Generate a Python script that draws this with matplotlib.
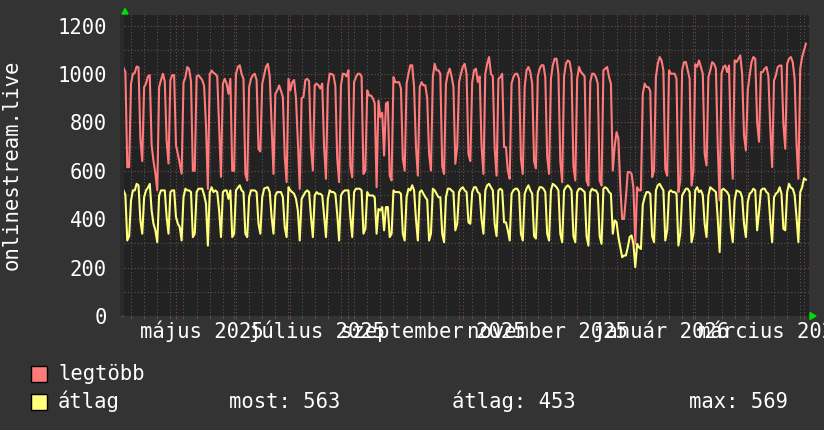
import matplotlib
matplotlib.use("Agg")
import matplotlib.pyplot as plt
import matplotlib.dates as mdates
from matplotlib.patches import Rectangle, Polygon
import pandas as pd

# ---------------------------
# Adatok (napi értékek, hetente: csüt..szerda)
# ---------------------------
start = "2025-04-03"

legtobb_heti = [
    [1026, 1008, 615, 615, 960, 1000, 1005],
    [1031, 1028, 732, 640, 946, 960, 990],
    [995, 705, 640, 590, 519, 946, 975],
    [1001, 970, 725, 630, 975, 995, 995],
    [705, 670, 630, 588, 965, 985, 1029],
    [1020, 970, 600, 600, 990, 995, 985],
    [975, 950, 787, 525, 1000, 1014, 1005],
    [1000, 990, 780, 575, 960, 980, 960],
    [918, 980, 600, 600, 1000, 1029, 1036],
    [1000, 980, 587, 560, 946, 980, 995],
    [1001, 975, 690, 680, 960, 995, 1030],
    [1042, 990, 787, 587, 918, 932, 953],
    [930, 905, 660, 553, 980, 932, 966],
    [975, 900, 720, 525, 900, 905, 975],
    [980, 970, 698, 601, 953, 960, 953],
    [940, 960, 698, 567, 946, 1001, 1000],
    [995, 950, 650, 553, 953, 1001, 1000],
    [990, 1015, 620, 573, 966, 987, 1001],
    [1001, 990, 587, 600, 932, 911, 911],
    [900, 880, 532, 890, 822, 840, 663],
    [878, 884, 580, 560, 987, 966, 966],
    [966, 940, 650, 600, 960, 1001, 1036],
    [1036, 946, 700, 580, 946, 966, 953],
    [953, 900, 670, 601, 987, 1042, 1015],
    [1015, 1001, 620, 587, 960, 1001, 1022],
    [990, 946, 629, 700, 966, 1001, 1030],
    [1042, 1000, 670, 640, 966, 1015, 1022],
    [967, 990, 700, 587, 1001, 1042, 1070],
    [1000, 990, 690, 580, 980, 987, 1001],
    [698, 698, 600, 567, 960, 987, 1001],
    [1001, 980, 650, 587, 946, 1015, 1029],
    [1008, 960, 640, 610, 990, 1022, 1036],
    [1036, 987, 660, 587, 980, 1036, 1063],
    [1063, 1001, 640, 553, 990, 1042, 1056],
    [1050, 1001, 620, 560, 980, 1029, 1008],
    [1000, 990, 560, 539, 967, 1001, 1001],
    [987, 960, 560, 539, 1015, 1022, 1029],
    [987, 960, 601, 700, 760, 733, 533],
    [401, 401, 491, 595, 595, 588, 530],
    [298, 532, 519, 519, 918, 960, 946],
    [946, 930, 574, 600, 987, 1042, 1070],
    [1056, 1015, 608, 580, 1015, 1001, 1001],
    [1001, 980, 512, 560, 1015, 1049, 1049],
    [1015, 980, 539, 600, 1040, 1030, 1056],
    [1029, 1000, 670, 622, 987, 1015, 1049],
    [1042, 1022, 700, 478, 1001, 1029, 1035],
    [1008, 1035, 712, 567, 1056, 1049, 1063],
    [1077, 1000, 746, 684, 932, 994, 1049],
    [1070, 1063, 801, 720, 1008, 1008, 1022],
    [1029, 990, 780, 615, 973, 994, 1029],
    [1035, 1035, 794, 691, 1042, 1063, 1070],
    [1049, 980, 712, 567, 1022, 1070, 1098],
    [1125],
]

atlag_heti = [
    [519, 500, 312, 330, 477, 519, 519],
    [546, 540, 395, 340, 491, 519, 530],
    [546, 436, 381, 354, 305, 498, 519],
    [519, 519, 409, 340, 512, 519, 519],
    [409, 381, 367, 312, 491, 526, 519],
    [519, 512, 326, 340, 512, 526, 526],
    [526, 500, 464, 291, 512, 532, 512],
    [519, 512, 436, 326, 512, 519, 519],
    [484, 519, 326, 340, 519, 530, 540],
    [519, 512, 340, 326, 491, 519, 519],
    [519, 512, 381, 340, 491, 526, 530],
    [532, 512, 409, 340, 498, 512, 512],
    [512, 491, 367, 326, 532, 519, 512],
    [505, 484, 436, 312, 484, 498, 512],
    [519, 512, 409, 326, 498, 512, 505],
    [505, 498, 415, 326, 484, 519, 512],
    [512, 505, 422, 312, 498, 512, 519],
    [519, 519, 409, 326, 512, 526, 526],
    [526, 519, 340, 360, 512, 498, 498],
    [498, 490, 340, 442, 436, 450, 354],
    [450, 450, 326, 340, 519, 512, 512],
    [512, 505, 340, 312, 491, 526, 519],
    [540, 519, 400, 312, 512, 519, 505],
    [491, 480, 312, 340, 526, 519, 505],
    [491, 491, 340, 305, 491, 526, 526],
    [519, 512, 354, 381, 512, 526, 532],
    [519, 512, 387, 381, 512, 532, 532],
    [512, 505, 400, 340, 519, 540, 546],
    [532, 519, 380, 330, 519, 526, 519],
    [387, 387, 354, 312, 505, 519, 526],
    [526, 512, 340, 312, 505, 526, 540],
    [519, 505, 330, 320, 512, 532, 532],
    [526, 512, 340, 312, 519, 546, 540],
    [532, 519, 340, 305, 519, 532, 540],
    [532, 519, 330, 305, 512, 526, 526],
    [519, 512, 330, 291, 512, 526, 519],
    [519, 505, 330, 298, 526, 532, 526],
    [512, 505, 340, 395, 388, 326, 284],
    [243, 250, 250, 284, 326, 333, 298],
    [202, 298, 284, 277, 460, 491, 512],
    [512, 505, 330, 305, 519, 540, 546],
    [532, 519, 312, 354, 512, 519, 512],
    [512, 505, 291, 340, 498, 512, 526],
    [526, 512, 305, 340, 519, 532, 512],
    [519, 500, 381, 326, 498, 532, 525],
    [519, 512, 400, 264, 519, 526, 519],
    [512, 498, 367, 305, 478, 519, 515],
    [512, 490, 381, 326, 471, 505, 512],
    [526, 519, 354, 430, 519, 526, 526],
    [512, 505, 395, 305, 491, 505, 512],
    [532, 505, 360, 354, 512, 546, 530],
    [526, 500, 409, 305, 512, 532, 569],
    [563],
]

legtobb = sum(legtobb_heti, [])
atlag = sum(atlag_heti, [])
napok = pd.date_range(start, periods=len(legtobb), freq="D")

honap_cimkek = ["május 2025", "július 2025", "szeptember 2025",
                "november 2025", "január 2026", "március 2026"]
honap_kozep = ["2025-05-15", "2025-07-15", "2025-09-15",
               "2025-11-15", "2026-01-15", "2026-03-15"]
y_ticks = [0, 200, 400, 600, 800, 1000, 1200]
stat_nevek = ["most", "átlag", "max"]
stat_ertekek = [563, 453, 569]

# ---------------------------
# Stílus
# ---------------------------
W, H = 824, 430
BACK = "#333333"
CANVAS = "#222222"
GRID = "#555555"
MGRID = "#7a4646"
RED = "#ff7b7b"
YEL = "#ffff7b"
TXT = "#ffffff"
ARROW = "#00dd00"

plt.rcParams["font.family"] = ["DejaVu Sans Mono"]
FS = 14.8


def fx(px):
    return px / W


def fy(py):
    return 1 - py / H


fig = plt.figure(figsize=(W / 100, H / 100), dpi=100, facecolor=BACK)

top, bottom, left, right = 14.7, 316, 124, 809
ax = fig.add_axes([fx(left), fy(bottom), (right - left) / W, (bottom - top) / H])
ax.set_facecolor(CANVAS)
for s in ax.spines.values():
    s.set_visible(False)

# sötétebb sáv a tengely mellett
fig.add_artist(Rectangle((fx(120), fy(bottom)), 4 / W, (bottom - top) / H,
                         transform=fig.transFigure, facecolor="#2a2a2a",
                         edgecolor="none"))

ax.plot(napok, legtobb, color=RED, linewidth=1.5, zorder=3)
ax.plot(napok, atlag, color=YEL, linewidth=1.5, zorder=4)

ax.set_xlim(pd.Timestamp("2025-04-03 06:15"), pd.Timestamp("2026-04-03 16:00"))
ax.set_ylim(0, 1245)

ax.xaxis.set_major_locator(mdates.MonthLocator())
ax.xaxis.set_minor_locator(mdates.WeekdayLocator(byweekday=mdates.MO))
ax.xaxis.set_major_formatter(plt.NullFormatter())
ax.set_yticks(y_ticks)
ax.set_yticks(range(100, 1245, 200), minor=True)
ax.set_yticklabels([str(v) for v in y_ticks])

ax.grid(which="major", color=MGRID, linestyle=(0, (1, 2)), linewidth=0.8, zorder=1)
ax.grid(which="minor", color=GRID, linestyle=(0, (1, 2)), linewidth=0.8, zorder=1)
ax.set_axisbelow(True)

ax.tick_params(axis="y", which="major", colors=TXT, labelsize=FS,
               length=2.5, pad=10, color=MGRID)
ax.tick_params(axis="y", which="minor", length=2.5, color=GRID)
ax.tick_params(axis="x", which="major", length=2, color=MGRID)
ax.tick_params(axis="x", which="minor", length=2, color=GRID)

for d, lab in zip(honap_kozep, honap_cimkek):
    ax.text(pd.Timestamp(d), -(338 - bottom) / (bottom - top), lab,
            transform=ax.get_xaxis_transform(), ha="center", va="baseline",
            color=TXT, fontsize=FS, clip_on=False)

# nyilak
fig.add_artist(Polygon([(fx(122), fy(14)), (fx(128), fy(14)), (fx(125), fy(8.5))],
                       closed=True, transform=fig.transFigure, color=ARROW))
fig.add_artist(Polygon([(fx(810), fy(312.5)), (fx(810), fy(319.5)), (fx(816), fy(316))],
                       closed=True, transform=fig.transFigure, color=ARROW))

fig.text(fx(12), fy(165), "onlinestream.live", rotation=90, ha="center",
         va="center", color=TXT, fontsize=FS)

# jelmagyarázat
for y0, col in [(365.5, RED), (393.5, YEL)]:
    fig.add_artist(Rectangle((fx(31.5), fy(y0 + 16)), 16 / W, 16 / H,
                             transform=fig.transFigure, facecolor=col,
                             edgecolor="black", linewidth=1))
fig.text(fx(58), fy(380), "legtöbb", color=TXT, fontsize=FS, va="baseline")
fig.text(fx(58), fy(408.5), "átlag", color=TXT, fontsize=FS, va="baseline")
for xp, nev, ert in zip([229, 452, 689], stat_nevek, stat_ertekek):
    fig.text(fx(xp), fy(408.5), f"{nev}: {ert}", color=TXT, fontsize=FS,
             va="baseline")

fig.savefig("out.png", dpi=100, facecolor=BACK)
